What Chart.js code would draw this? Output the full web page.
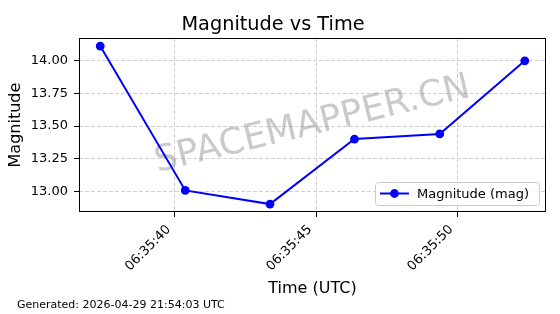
<!DOCTYPE html>
<html>
<head>
<meta charset="utf-8">
<script src="https://cdn.jsdelivr.net/npm/chart.js@4"></script>
<style>
  html, body { margin: 0; padding: 0; background: #fff; }
  #wrap { width: 560px; height: 314px; }
</style>
</head>
<body>
<div id="wrap"><canvas id="chart" width="560" height="314"></canvas></div>
<script>
// observation times as seconds after 06:35:00 UTC
const baseTime = '06:35';
const seconds = [37.36, 40.37, 43.37, 46.36, 49.38, 52.39];
const magnitudes = [14.113, 13.008, 12.903, 13.401, 13.44, 14.0];
const xTickSeconds = [40, 45, 50];
const yTickValues = [13.0, 13.25, 13.5, 13.75, 14.0];
const seriesLabel = 'Magnitude (mag)';
const titleText = 'Magnitude vs Time';
const generatedText = 'Generated: 2026-04-29 21:54:03 UTC';
const watermarkText = 'SPACEMAPPER.CN';

const FONT = '"DejaVu Sans", "Liberation Sans", sans-serif';

// matplotlib-like 5% margins around the data
function padRange(arr) {
    const lo = Math.min(...arr), hi = Math.max(...arr);
    const m = (hi - lo) * 0.05;
    return [lo - m, hi + m];
}
const [xMin, xMax] = padRange(seconds);
const [yMin, yMax] = padRange(magnitudes);

const fmtTime = s => baseTime + ':' + String(Math.round(s)).padStart(2, '0');

const extras = {
    id: 'extras',
    beforeDatasetsDraw(chart) {
        const { ctx, chartArea: a } = chart;
        ctx.save();
        ctx.translate((a.left + a.right) / 2, (a.top + a.bottom) / 2);
        ctx.rotate(-13.5 * Math.PI / 180);
        ctx.font = '36px ' + FONT;
        ctx.fillStyle = 'rgba(128,128,128,0.42)';
        ctx.textAlign = 'center';
        ctx.textBaseline = 'middle';
        ctx.fillText(watermarkText, 0, 0);
        ctx.restore();
    },
    afterDatasetsDraw(chart) {
        const { ctx, chartArea: a } = chart;
        ctx.save();
        ctx.strokeStyle = '#000';
        ctx.lineWidth = 1;
        ctx.strokeRect(Math.round(a.left) + 0.5, Math.round(a.top) + 0.5,
            Math.round(a.right - a.left) - 1, Math.round(a.bottom - a.top) - 1);
        ctx.restore();
    },
    afterDraw(chart) {
        const { ctx, chartArea: a } = chart;
        const ds = chart.data.datasets[0];

        // legend, lower right inside the axes
        ctx.save();
        ctx.font = '13px ' + FONT;
        const tw = ctx.measureText(ds.label).width;
        const w = 5 + 29 + 8 + tw + 10;
        const h = 23;
        const x = a.right - 7 - w;
        const y = a.bottom - 7 - h;
        ctx.beginPath();
        ctx.roundRect(x + 0.5, y + 0.5, w, h, 3);
        ctx.fillStyle = 'rgba(255,255,255,0.8)';
        ctx.fill();
        ctx.strokeStyle = '#cccccc';
        ctx.lineWidth = 1;
        ctx.stroke();
        const cy = y + h / 2;
        ctx.beginPath();
        ctx.moveTo(x + 5, cy);
        ctx.lineTo(x + 34, cy);
        ctx.strokeStyle = ds.borderColor;
        ctx.lineWidth = ds.borderWidth;
        ctx.stroke();
        ctx.beginPath();
        ctx.arc(x + 19.5, cy, ds.pointRadius, 0, Math.PI * 2);
        ctx.fillStyle = ds.pointBackgroundColor;
        ctx.fill();
        ctx.fillStyle = '#000';
        ctx.textAlign = 'left';
        ctx.textBaseline = 'middle';
        ctx.fillText(ds.label, x + 42, cy + 1);

        // footer
        ctx.font = '11px ' + FONT;
        ctx.fillText(generatedText, 17, 305);
        ctx.restore();
    }
};

const gridOpts = {
    color: '#d0d0d0',
    lineWidth: 1,
    tickColor: '#000',
    tickLength: 5,
    tickBorderDash: [],
    drawTicks: true
};

new Chart(document.getElementById('chart'), {
    type: 'line',
    data: {
        datasets: [{
            label: seriesLabel,
            data: seconds.map((s, i) => ({ x: s, y: magnitudes[i] })),
            borderColor: '#0000ff',
            backgroundColor: '#0000ff',
            pointBackgroundColor: '#0000ff',
            pointBorderWidth: 0,
            pointRadius: 4.4,
            borderWidth: 2,
            tension: 0,
            fill: false
        }]
    },
    options: {
        responsive: false,
        animation: false,
        devicePixelRatio: 1,
        layout: { padding: { left: 0, right: 14, top: 0, bottom: 0 } },
        plugins: {
            legend: { display: false },
            tooltip: { enabled: false },
            title: {
                display: true,
                text: titleText,
                color: '#000',
                font: { family: FONT, size: 19.3, weight: 'normal' },
                padding: { top: 13, bottom: 2 }
            }
        },
        scales: {
            x: {
                type: 'linear',
                min: xMin,
                max: xMax,
                afterBuildTicks: s => { s.ticks = xTickSeconds.map(v => ({ value: v })); },
                afterFit: s => { s.height = 102; },
                grid: gridOpts,
                border: { display: false, dash: [4, 2] },
                ticks: {
                    autoSkip: false,
                    minRotation: 45,
                    maxRotation: 45,
                    padding: 5,
                    labelOffset: -6,
                    color: '#000',
                    font: { family: FONT, size: 13 },
                    callback: v => fmtTime(v)
                },
                title: {
                    display: true,
                    text: 'Time (UTC)',
                    color: '#000',
                    font: { family: FONT, size: 16 },
                    padding: { top: 0, bottom: 16 }
                }
            },
            y: {
                min: yMin,
                max: yMax,
                afterBuildTicks: s => { s.ticks = yTickValues.map(v => ({ value: v })); },
                afterFit: s => { s.width = 79; },
                grid: gridOpts,
                border: { display: false, dash: [4, 2] },
                ticks: {
                    padding: 6,
                    color: '#000',
                    font: { family: FONT, size: 13 },
                    callback: v => v.toFixed(2)
                },
                title: {
                    display: true,
                    text: 'Magnitude',
                    color: '#000',
                    font: { family: FONT, size: 16 },
                    padding: { top: 6, bottom: 0 }
                }
            }
        }
    },
    plugins: [extras]
});
</script>
</body>
</html>
